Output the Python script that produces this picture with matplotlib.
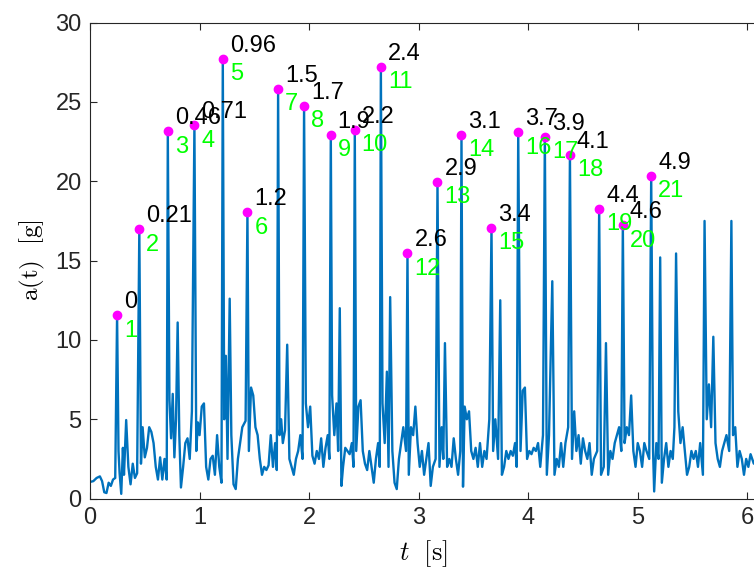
import numpy as np
import matplotlib.pyplot as plt

plt.rcParams['font.family'] = ['Liberation Sans', 'DejaVu Sans']
plt.rcParams['mathtext.fontset'] = 'cm'

# acceleration signal
t_sig = [0.00, 0.03, 0.06, 0.09, 0.11, 0.13, 0.15, 0.17, 0.19, 0.21, 0.23, 0.247, 0.26, 0.27, 0.285,
         0.30, 0.31, 0.33, 0.35, 0.37, 0.39, 0.41, 0.43, 0.45, 0.465, 0.48, 0.50, 0.52, 0.54, 0.56,
         0.58, 0.60, 0.62, 0.64, 0.66, 0.68, 0.70, 0.71, 0.725, 0.74, 0.755, 0.77, 0.785, 0.80, 0.815,
         0.83, 0.85, 0.87, 0.89, 0.91, 0.93, 0.953, 0.97, 0.985, 1.00, 1.02, 1.04, 1.06, 1.08, 1.10,
         1.12, 1.14, 1.16, 1.18, 1.20, 1.212, 1.225, 1.24, 1.255, 1.275, 1.29, 1.31, 1.33, 1.35, 1.37,
         1.39, 1.42, 1.437, 1.45, 1.47, 1.49, 1.51, 1.53, 1.55, 1.57, 1.59, 1.61, 1.63, 1.65, 1.67,
         1.69, 1.705, 1.717, 1.73, 1.745, 1.76, 1.78, 1.80, 1.82, 1.84, 1.86, 1.88, 1.90, 1.92, 1.94,
         1.954, 1.97, 1.99, 2.01, 2.03, 2.05, 2.07, 2.09, 2.11, 2.13, 2.15, 2.17, 2.185, 2.198, 2.21,
         2.23, 2.25, 2.265, 2.28, 2.295, 2.31, 2.33, 2.35, 2.37, 2.39, 2.405, 2.417, 2.43, 2.45, 2.47,
         2.49, 2.51, 2.53, 2.55, 2.57, 2.59, 2.61, 2.63, 2.645, 2.655, 2.67, 2.69, 2.71, 2.725, 2.74,
         2.76, 2.78, 2.80, 2.82, 2.84, 2.86, 2.885, 2.898, 2.91, 2.93, 2.95, 2.97, 2.99, 3.01, 3.03,
         3.05, 3.07, 3.09, 3.11, 3.13, 3.155, 3.172, 3.19, 3.21, 3.225, 3.24, 3.26, 3.28, 3.30, 3.32,
         3.34, 3.36, 3.38, 3.391, 3.405, 3.42, 3.44, 3.46, 3.48, 3.50, 3.52, 3.54, 3.56, 3.58, 3.60,
         3.62, 3.645, 3.665, 3.68, 3.70, 3.725, 3.745, 3.76, 3.78, 3.80, 3.82, 3.84, 3.86, 3.88, 3.895,
         3.909, 3.93, 3.95, 3.97, 3.99, 4.01, 4.03, 4.05, 4.07, 4.09, 4.11, 4.135, 4.152, 4.17, 4.19,
         4.22, 4.24, 4.26, 4.28, 4.30, 4.32, 4.34, 4.365, 4.381, 4.40, 4.42, 4.44, 4.46, 4.48, 4.50,
         4.52, 4.54, 4.56, 4.58, 4.60, 4.63, 4.648, 4.665, 4.69, 4.71, 4.73, 4.75, 4.77, 4.79, 4.81,
         4.83, 4.85, 4.864, 4.88, 4.90, 4.92, 4.94, 4.96, 4.98, 5.00, 5.02, 5.04, 5.06, 5.08, 5.105,
         5.123, 5.14, 5.15, 5.17, 5.19, 5.205, 5.22, 5.24, 5.26, 5.28, 5.30, 5.32, 5.335, 5.35, 5.37,
         5.39, 5.41, 5.43, 5.45, 5.47, 5.49, 5.51, 5.53, 5.55, 5.57, 5.595, 5.61, 5.63, 5.65, 5.67,
         5.69, 5.71, 5.73, 5.75, 5.77, 5.79, 5.81, 5.835, 5.855, 5.87, 5.89, 5.91, 5.93, 5.95, 5.97,
         5.99, 6.01, 6.03, 6.06, 6.08]
a_sig = [1.05, 1.10, 1.30, 1.40, 1.10, 0.40, 0.35, 1.00, 0.80, 1.20, 1.30, 11.55, 3.0, 1.6, 0.3,
         3.2, 1.5, 4.95, 2.0, 0.9, 2.2, 1.3, 1.6, 16.97, 2.2, 4.5, 2.6, 3.2, 4.5, 4.2,
         3.5, 2.0, 1.2, 2.6, 1.2, 2.5, 1.2, 23.14, 6.2, 3.8, 6.6, 2.6, 5.0, 11.1, 4.0,
         0.7, 2.0, 3.5, 3.8, 2.5, 5.5, 23.52, 3.0, 4.8, 4.0, 5.8, 6.0, 2.0, 1.2, 2.5,
         2.7, 1.5, 4.0, 2.0, 1.0, 27.72, 5.0, 9.0, 2.5, 12.6, 4.0, 0.9, 0.6, 2.5, 3.5,
         4.5, 4.9, 18.04, 3.0, 7.0, 6.5, 4.5, 4.0, 2.5, 1.5, 2.0, 1.8, 2.1, 4.0, 2.0,
         3.5, 1.8, 25.81, 4.0, 5.0, 3.5, 4.3, 9.7, 2.5, 2.0, 1.5, 2.5, 3.0, 4.0, 2.5,
         24.74, 6.0, 4.5, 5.8, 2.7, 2.2, 3.0, 2.5, 3.8, 2.0, 3.2, 4.0, 2.5, 22.91, 6.5,
         4.0, 6.0, 3.0, 12.0, 0.8, 2.0, 3.2, 3.0, 2.8, 3.5, 2.0, 23.23, 3.0, 5.8, 6.2,
         3.0, 2.2, 1.8, 3.0, 2.0, 1.0, 2.5, 3.5, 2.0, 27.22, 6.0, 3.5, 8.0, 2.0, 12.7,
         3.0, 1.0, 0.6, 2.5, 3.5, 4.5, 3.0, 15.45, 1.5, 4.5, 4.0, 5.8, 3.5, 2.0, 3.0,
         1.5, 2.5, 3.5, 0.8, 2.0, 2.5, 19.95, 2.0, 4.5, 2.5, 9.8, 2.0, 2.5, 2.0, 3.8,
         2.5, 1.5, 3.0, 22.93, 0.75, 5.8, 5.0, 5.5, 3.0, 2.5, 3.2, 2.0, 3.5, 2.0, 3.0,
         2.5, 5.0, 17.07, 3.0, 5.0, 2.5, 12.5, 1.5, 2.0, 3.0, 2.5, 3.0, 2.7, 3.5, 2.0,
         23.08, 3.0, 6.8, 7.0, 2.5, 3.0, 2.8, 3.2, 3.0, 3.5, 2.0, 4.0, 22.80, 1.5, 4.0,
         13.7, 1.5, 2.5, 2.0, 3.5, 2.0, 3.5, 4.5, 21.67, 2.5, 5.5, 3.0, 4.0, 2.2, 3.8,
         3.0, 2.5, 3.5, 1.5, 2.5, 3.0, 18.27, 1.5, 2.0, 9.8, 1.5, 3.0, 2.5, 3.5, 4.0,
         4.5, 3.0, 17.22, 3.5, 4.5, 4.0, 6.5, 3.0, 2.0, 3.5, 3.0, 2.0, 3.5, 3.0, 2.5,
         20.35, 3.0, 0.45, 3.5, 2.5, 15.2, 1.0, 2.5, 3.5, 2.0, 3.0, 2.5, 4.5, 15.45, 5.5,
         3.5, 4.5, 3.0, 1.5, 2.0, 3.0, 2.5, 3.0, 2.0, 3.5, 1.5, 17.5, 5.0, 7.2, 4.5,
         10.2, 3.5, 2.5, 2.0, 3.0, 3.5, 4.0, 3.0, 17.5, 4.0, 4.5, 2.0, 3.0, 2.5, 1.5,
         2.5, 2.0, 2.8, 2.2, 2.5]

# detected peaks
pk_t = [0.247, 0.450, 0.710, 0.953, 1.212, 1.437, 1.717, 1.954, 2.198, 2.417, 2.655,
        2.898, 3.172, 3.391, 3.665, 3.909, 4.152, 4.381, 4.648, 4.864, 5.123]
pk_a = [11.55, 16.97, 23.14, 23.52, 27.72, 18.04, 25.81, 24.74, 22.91, 23.23, 27.22,
        15.45, 19.95, 22.93, 17.07, 23.08, 22.80, 21.67, 18.27, 17.22, 20.35]
pk_lbl = ['0', '0.21', '0.46', '0.71', '0.96', '1.2', '1.5', '1.7', '1.9', '2.2', '2.4',
          '2.6', '2.9', '3.1', '3.4', '3.7', '3.9', '4.1', '4.4', '4.6', '4.9']

fig = plt.figure(figsize=(7.54, 5.71), dpi=100)
ax = fig.add_axes([0.1194, 0.1268, 0.8833, 0.8336])

ax.plot(t_sig, a_sig, color='#0072BD', lw=1.7)
ax.plot(pk_t, pk_a, 'o', color='magenta', ms=6, mec='magenta')

for i in range(len(pk_t)):
    ax.annotate(pk_lbl[i], (pk_t[i], pk_a[i]), xytext=(5, 9.5), textcoords='offset points',
                ha='left', va='center', fontsize=17, color='black')
    ax.annotate(str(i + 1), (pk_t[i], pk_a[i]), xytext=(5, -11), textcoords='offset points',
                ha='left', va='center', fontsize=17, color='#00FF00')

ax.set_xlim(0, 6.08)
ax.set_ylim(0, 30)
ax.set_xticks([0, 1, 2, 3, 4, 5, 6])
ax.set_yticks([0, 5, 10, 15, 20, 25, 30])
ax.tick_params(direction='in', top=True, right=False, length=5, width=0.8,
               labelsize=17, labelcolor='#262626', color='#262626', pad=6)
for s in ax.spines.values():
    s.set_color('#262626')
    s.set_linewidth(0.8)

ax.set_xlabel(r'$t\ \ [\mathrm{s}]$', fontsize=19, labelpad=7)
ax.set_ylabel(r'$\mathrm{a(t)\ \ [g]}$', fontsize=18, labelpad=6)

fig.savefig('out.png', dpi=100)
